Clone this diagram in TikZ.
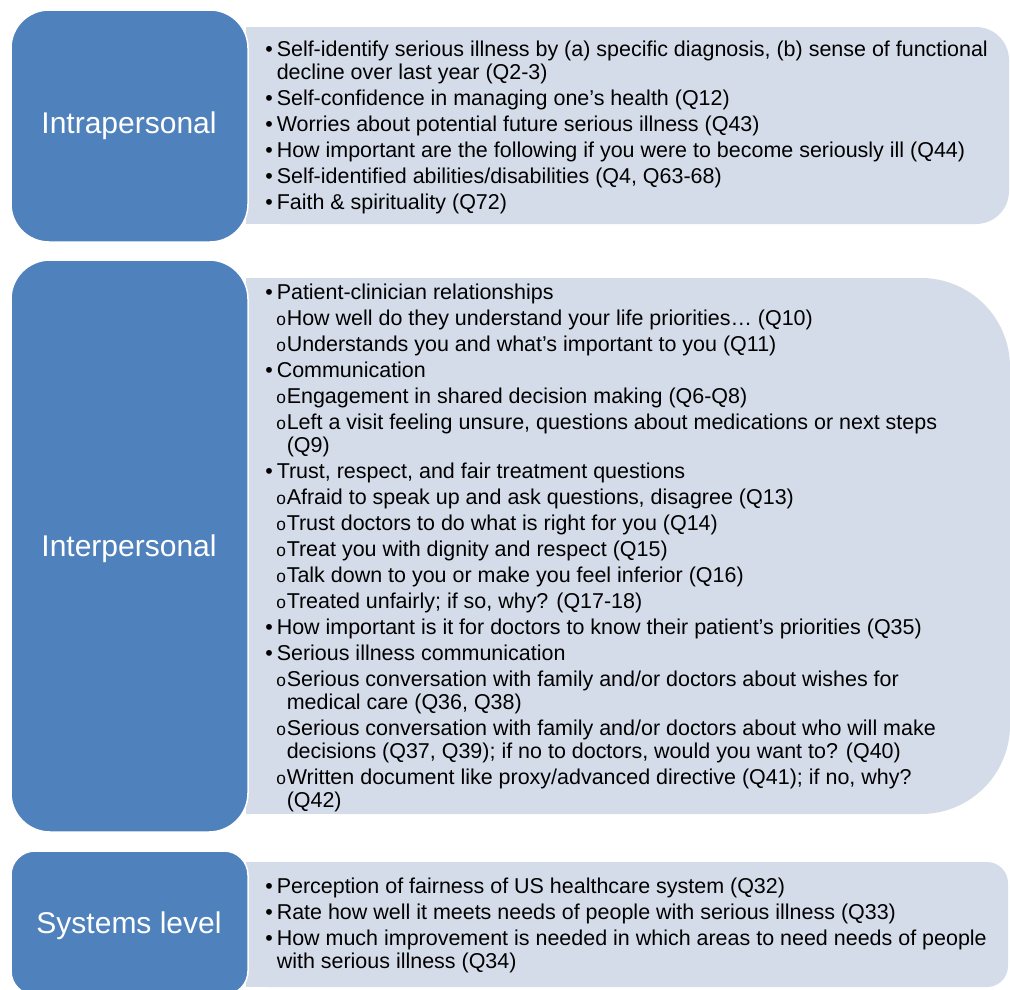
\documentclass[tikz,border=0pt]{standalone}
\usepackage{fontspec}
\setmainfont{Liberation Sans}
\newdimen\px \px=0.75pt
\definecolor{boxblue}{RGB}{79,129,189}
\definecolor{boxgrey}{RGB}{213,220,233}
\newcommand\mitem[1]{\par\hangindent=11.5\px\hangafter=1\noindent\makebox[11.5\px][l]{•}#1}
\newcommand\sitem[1]{\par\hangindent=21.5\px\hangafter=1\noindent\hspace*{11\px}\makebox[10.5\px][l]{\fontsize{13}{14}\selectfont o}#1}
\newcommand\itemtext[1]{\parbox[t]{745\px}{\raggedright\fontsize{16.1}{17.25}\selectfont\parindent=0pt\parskip=3\px #1}}
\tikzset{
  bluebox/.style={fill=boxblue, draw=white, line width=1.5\px},
  greybox/.style={fill=boxgrey},
  lbl/.style={anchor=base, text=white, inner sep=0pt, font=\fontsize{22.5}{27}\selectfont},
  textblk/.style={anchor=base west, inner sep=0pt, text=black}
}
\begin{document}
\begin{tikzpicture}[x=0.75pt,y=-0.75pt]
\useasboundingbox (0,0) rectangle (1010,989);
\clip (0,0) rectangle (1010,989);
\fill[white] (0,0) rectangle (1010,989);
% grey panels (square left corners, rounded right corners)
\path[greybox, rounded corners=33\px] (246,27) rectangle (1009,224);
\path[greybox] (246,27) rectangle (300,224);
\path[greybox, rounded corners=89\px] (246,278) rectangle (1010,814);
\path[greybox] (246,278) rectangle (360,814);
\path[greybox, rounded corners=21\px] (246,862) rectangle (1008,987);
\path[greybox] (246,862) rectangle (290,987);
% blue level boxes
\path[bluebox, rounded corners=38\px] (11,10) rectangle (248,242);
\path[bluebox, rounded corners=39\px] (11,260) rectangle (248,832);
\path[bluebox, rounded corners=24\px] (11,851) rectangle (248,995);
% labels
\node[lbl] (l1) at (129,133) {Intrapersonal};
\node[lbl] (l2) at (129,556) {Interpersonal};
\node[lbl] (l3) at (129,933) {Systems level};
% texts
\node[textblk] (t1) at (265,56.5) {\itemtext{%
\mitem{Self-identify serious illness by (a) specific diagnosis, (b) sense of functional\newline decline over last year (Q2-3)}
\mitem{Self-confidence in managing one’s health (Q12)}
\mitem{Worries about potential future serious illness (Q43)}
\mitem{How important are the following if you were to become seriously ill (Q44)}
\mitem{Self-identified abilities/disabilities (Q4, Q63-68)}
\mitem{Faith \& spirituality (Q72)}}};
\node[textblk] (t2) at (265,299.5) {\itemtext{%
\mitem{Patient-clinician relationships}
\sitem{How well do they understand your life priorities… (Q10)}
\sitem{Understands you and what’s important to you (Q11)}
\mitem{Communication}
\sitem{Engagement in shared decision making (Q6-Q8)}
\sitem{Left a visit feeling unsure, questions about medications or next steps\newline (Q9)}
\mitem{Trust, respect, and fair treatment questions}
\sitem{Afraid to speak up and ask questions, disagree (Q13)}
\sitem{Trust doctors to do what is right for you (Q14)}
\sitem{Treat you with dignity and respect (Q15)}
\sitem{Talk down to you or make you feel inferior (Q16)}
\sitem{Treated unfairly; if so, why? (Q17-18)}
\mitem{How important is it for doctors to know their patient’s priorities (Q35)}
\mitem{Serious illness communication}
\sitem{Serious conversation with family and/or doctors about wishes for\newline medical care (Q36, Q38)}
\sitem{Serious conversation with family and/or doctors about who will make\newline decisions (Q37, Q39); if no to doctors, would you want to? (Q40)}
\sitem{Written document like proxy/advanced directive (Q41); if no, why?\newline (Q42)}}};
\node[textblk] (t3) at (265,893) {\itemtext{%
\mitem{Perception of fairness of US healthcare system (Q32)}
\mitem{Rate how well it meets needs of people with serious illness (Q33)}
\mitem{How much improvement is needed in which areas to need needs of people\newline with serious illness (Q34)}}};
\end{tikzpicture}
\end{document}
